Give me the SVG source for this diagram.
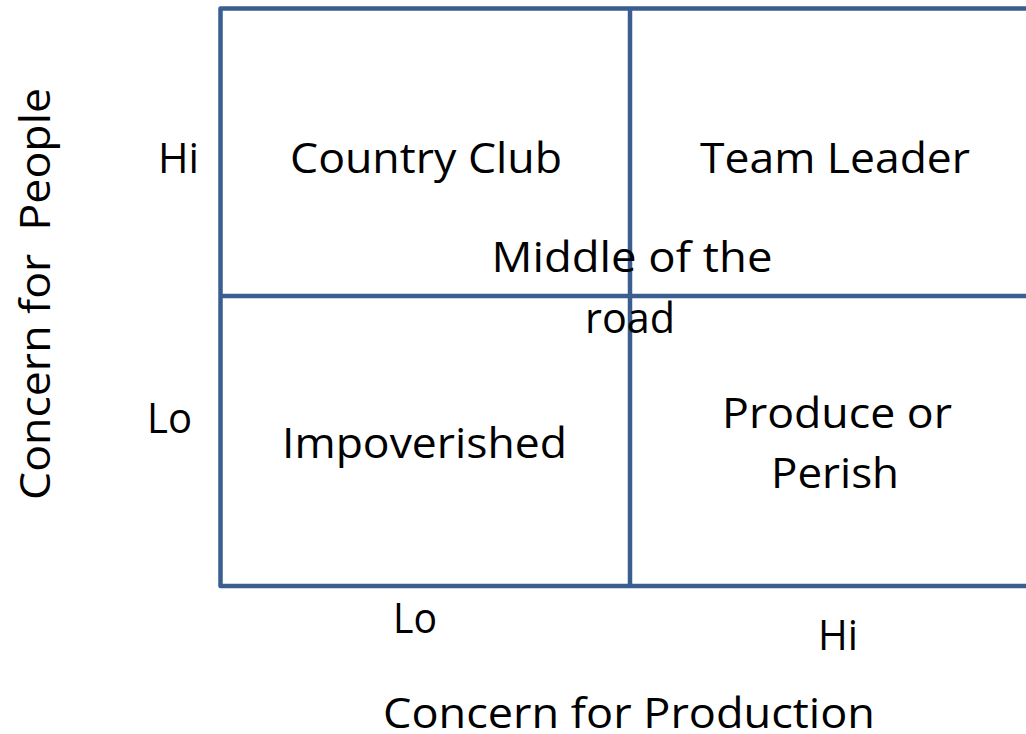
<svg xmlns="http://www.w3.org/2000/svg" width="1026" height="734" viewBox="0 0 1026 734">
<style>
.ln{fill:none;stroke:#3a5e90;stroke-width:4.5;stroke-linejoin:round}
.t{font-family:"Open Sans","Liberation Sans",sans-serif;font-size:42px;fill:#000}
.c{text-anchor:middle}
</style>
<rect width="1026" height="734" fill="#fff"/>
<g id="grid">
<path class="ln" d="M1030,8.5 H220.5 V586 H1030"/>
<path class="ln" d="M630,8.5 V586"/>
<path class="ln" d="M220.5,296 H1030"/>
</g>
<g id="q-country-club"><text class="t c" x="426" y="173" textLength="272" lengthAdjust="spacingAndGlyphs">Country Club</text></g>
<g id="q-team-leader"><text class="t c" x="835" y="173" textLength="270" lengthAdjust="spacingAndGlyphs">Team Leader</text></g>
<g id="q-middle"><text class="t c" x="632" y="272" textLength="281" lengthAdjust="spacingAndGlyphs">Middle of the</text><text class="t c" x="630" y="333" textLength="90" lengthAdjust="spacingAndGlyphs">road</text></g>
<g id="q-impoverished"><text class="t c" x="424.5" y="458" textLength="285" lengthAdjust="spacingAndGlyphs">Impoverished</text></g>
<g id="q-produce"><text class="t c" x="837" y="428" textLength="230" lengthAdjust="spacingAndGlyphs">Produce or</text><text class="t c" x="835" y="488" textLength="128" lengthAdjust="spacingAndGlyphs">Perish</text></g>
<g id="axis-y">
<text class="t" x="158" y="173" textLength="41" lengthAdjust="spacingAndGlyphs">Hi</text>
<text class="t" x="147" y="433" textLength="45" lengthAdjust="spacingAndGlyphs">Lo</text>
<text class="t c" transform="translate(50,294) rotate(-90)" x="0" y="0" textLength="412" lengthAdjust="spacingAndGlyphs" xml:space="preserve">Concern for  People</text>
</g>
<g id="axis-x">
<text class="t" x="393" y="633" textLength="44" lengthAdjust="spacingAndGlyphs">Lo</text>
<text class="t" x="818" y="650" textLength="40" lengthAdjust="spacingAndGlyphs">Hi</text>
<text class="t c" x="629" y="728" textLength="492" lengthAdjust="spacingAndGlyphs">Concern for Production</text>
</g>
</svg>
